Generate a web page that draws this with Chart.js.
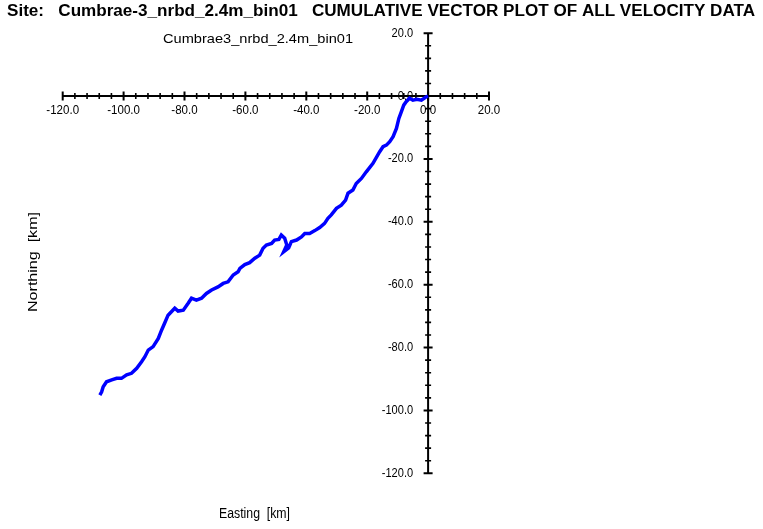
<!DOCTYPE html>
<html><head><meta charset="utf-8">
<script src="https://cdn.jsdelivr.net/npm/chart.js@4.4.1/dist/chart.umd.min.js"></script>
<style>html,body{margin:0;padding:0;background:#fff;overflow:hidden}#wrap{position:relative;width:763px;height:529px}</style>
</head><body><div id="wrap"><canvas id="c" width="763" height="529"></canvas></div>
<script>
// Cumulative displacement (km)
const eastingKm = [0, -0.6, -2.2, -3.7, -5.0, -6.1, -7.2, -8.0, -8.8, -9.6, -10.4, -11.5, -12.6, -13.7, -14.8, -15.9, -18.1, -20.3, -21.9, -23.6, -24.7, -26.3, -27.1, -28.5, -30.1, -31.8, -32.9, -34.0, -35.6, -37.2, -38.9, -40.5, -41.6, -43.2, -44.9, -45.8, -47.4, -46.4, -47.1, -48.2, -49.0, -50.4, -51.4, -53.1, -54.2, -55.3, -56.9, -58.6, -60.2, -61.8, -62.4, -64.0, -65.7, -67.3, -69.0, -71.1, -72.8, -74.4, -76.1, -77.7, -78.8, -80.4, -82.1, -83.2, -84.3, -85.4, -86.5, -87.5, -88.6, -90.3, -91.9, -93.0, -94.1, -95.7, -97.4, -99.0, -100.7, -102.3, -103.9, -105.6, -106.7, -107.2, -107.8];
const northingKm = [0, -0.2, -1.3, -1.0, -1.3, -0.7, -1.8, -2.9, -5.0, -7.1, -10.3, -12.9, -14.5, -15.6, -16.1, -17.7, -21.4, -24.1, -26.2, -27.8, -29.9, -30.9, -33.1, -34.7, -35.7, -37.8, -38.9, -40.5, -41.8, -42.8, -43.7, -43.7, -44.8, -45.8, -46.3, -48.3, -49.5, -47.4, -45.2, -44.2, -45.6, -45.8, -46.9, -47.4, -48.4, -50.6, -51.6, -53.0, -53.6, -54.8, -55.9, -56.9, -59.1, -59.6, -60.7, -61.7, -62.8, -64.3, -64.9, -64.3, -65.9, -68.1, -68.4, -67.5, -68.6, -69.7, -72.2, -74.4, -77.1, -79.7, -80.8, -82.9, -84.5, -86.6, -88.2, -88.7, -89.8, -89.8, -90.3, -90.9, -92.5, -94.1, -95.1];
const majorTicks = [-120, -100, -80, -60, -40, -20, 0, 20];
const tickLabels = ['-120.0', '-100.0', '-80.0', '-60.0', '-40.0', '-20.0', '0.0', '20.0'];
const minorStep = 4;
const titleText = 'Site:   Cumbrae-3_nrbd_2.4m_bin01   CUMULATIVE VECTOR PLOT OF ALL VELOCITY DATA';
const subtitleText = 'Cumbrae3_nrbd_2.4m_bin01';
const xTitle = 'Easting  [km]';
const yTitle = 'Northing  [km]';

const points = eastingKm.map((e, i) => ({x: e, y: northingKm[i]}));
const FONT = '"Liberation Sans", Arial, sans-serif';

function fitText(ctx, str, font, cx, cy, targetW, rot) {
  ctx.save();
  ctx.font = font;
  const w = ctx.measureText(str).width;
  ctx.translate(cx, cy);
  if (rot) ctx.rotate(rot);
  ctx.scale(targetW / w, 1);
  ctx.textAlign = 'center';
  ctx.textBaseline = 'middle';
  ctx.fillStyle = '#000';
  ctx.fillText(str, 0, 0);
  ctx.restore();
}

const axesPlugin = {
  id: 'crossAxes',
  beforeDatasetsDraw(chart) {
    const ctx = chart.ctx;
    const xs = chart.scales.x, ys = chart.scales.y;
    const x0 = xs.getPixelForValue(0), y0 = ys.getPixelForValue(0);
    const lo = majorTicks[0], hi = majorTicks[majorTicks.length - 1];
    ctx.save();
    ctx.strokeStyle = '#000';
    ctx.lineCap = 'butt';
    ctx.lineWidth = 2;
    ctx.beginPath();
    ctx.moveTo(xs.getPixelForValue(lo), y0); ctx.lineTo(xs.getPixelForValue(hi), y0);
    ctx.moveTo(x0, ys.getPixelForValue(lo)); ctx.lineTo(x0, ys.getPixelForValue(hi));
    ctx.stroke();
    ctx.lineWidth = 1.6;
    ctx.beginPath();
    for (let v = lo; v <= hi; v += minorStep) {
      if (majorTicks.includes(v)) continue;
      const px = xs.getPixelForValue(v), py = ys.getPixelForValue(v);
      ctx.moveTo(px, y0 - 3); ctx.lineTo(px, y0 + 3);
      ctx.moveTo(x0 - 3, py); ctx.lineTo(x0 + 3, py);
    }
    ctx.stroke();
    ctx.lineWidth = 2;
    ctx.beginPath();
    majorTicks.forEach(v => {
      const px = xs.getPixelForValue(v), py = ys.getPixelForValue(v);
      ctx.moveTo(px, y0 - 4.5); ctx.lineTo(px, y0 + 4.5);
      ctx.moveTo(x0 - 4.5, py); ctx.lineTo(x0 + 4.5, py);
    });
    ctx.stroke();
    ctx.fillStyle = '#000';
    majorTicks.forEach((v, i) => {
      const px = xs.getPixelForValue(v), py = ys.getPixelForValue(v);
      ctx.save();
      ctx.font = '12px ' + FONT;
      ctx.textAlign = 'center'; ctx.textBaseline = 'middle';
      ctx.translate(px, y0 + 14); ctx.scale(0.96, 1.05);
      ctx.fillText(tickLabels[i], 0, 0);
      ctx.restore();
      ctx.save();
      ctx.font = '12px ' + FONT;
      ctx.textAlign = 'right'; ctx.textBaseline = 'middle';
      ctx.translate(x0 - 15, py); ctx.scale(0.92, 1.05);
      ctx.fillText(tickLabels[i], 0, 0);
      ctx.restore();
    });
    fitText(ctx, titleText, 'bold 16px ' + FONT, 381, 12, 748, 0);
    fitText(ctx, subtitleText, '13px ' + FONT, 258, 39, 190, 0);
    fitText(ctx, xTitle, '14px ' + FONT, 254.5, 514, 71, 0);
    fitText(ctx, yTitle, '13px ' + FONT, 33, 262, 100, -Math.PI / 2);
    ctx.restore();
  }
};

new Chart(document.getElementById('c'), {
  type: 'scatter',
  data: {
    datasets: [{
      data: points,
      showLine: true,
      borderColor: '#0000ff',
      backgroundColor: '#0000ff',
      borderWidth: 3.5,
      pointRadius: 0,
      tension: 0,
      fill: false
    }]
  },
  options: {
    responsive: false,
    animation: false,
    layout: {padding: {left: 62.7, right: 274, top: 33.2, bottom: 55.7}},
    scales: {
      x: {type: 'linear', min: -120, max: 20, display: false},
      y: {type: 'linear', min: -120, max: 20, display: false}
    },
    plugins: {legend: {display: false}, tooltip: {enabled: false}, title: {display: false}}
  },
  plugins: [axesPlugin]
});
</script>
</body></html>
